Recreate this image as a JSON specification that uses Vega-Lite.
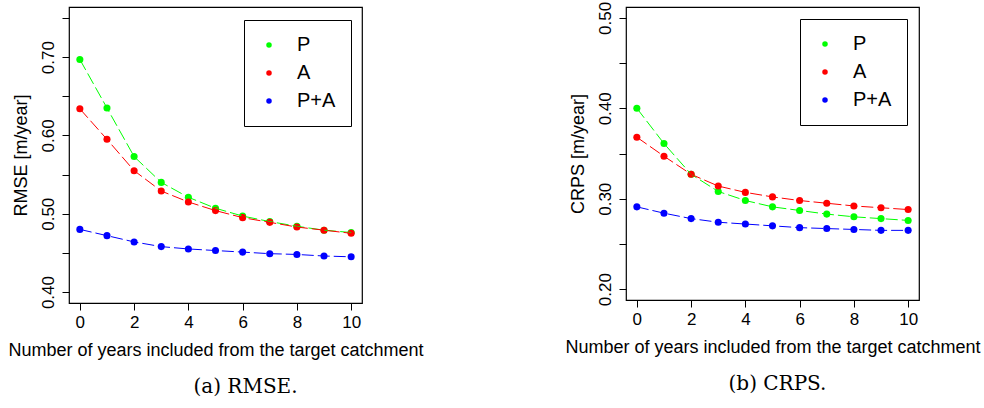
{
  "$schema": "https://vega.github.io/schema/vega-lite/v6.json",
  "background": "white",
  "padding": {"left": 7, "top": 0, "right": 5, "bottom": 5},
  "bounds": "flush",
  "spacing": 264,
  "datasets": {
    "rmse": [
      {"years": 0, "method": "P", "value": 0.697},
      {"years": 1, "method": "P", "value": 0.635},
      {"years": 2, "method": "P", "value": 0.573},
      {"years": 3, "method": "P", "value": 0.540},
      {"years": 4, "method": "P", "value": 0.521},
      {"years": 5, "method": "P", "value": 0.507},
      {"years": 6, "method": "P", "value": 0.497},
      {"years": 7, "method": "P", "value": 0.490},
      {"years": 8, "method": "P", "value": 0.484},
      {"years": 9, "method": "P", "value": 0.479},
      {"years": 10, "method": "P", "value": 0.476},
      {"years": 0, "method": "A", "value": 0.634},
      {"years": 1, "method": "A", "value": 0.595},
      {"years": 2, "method": "A", "value": 0.555},
      {"years": 3, "method": "A", "value": 0.529},
      {"years": 4, "method": "A", "value": 0.515},
      {"years": 5, "method": "A", "value": 0.504},
      {"years": 6, "method": "A", "value": 0.495},
      {"years": 7, "method": "A", "value": 0.489},
      {"years": 8, "method": "A", "value": 0.483},
      {"years": 9, "method": "A", "value": 0.479},
      {"years": 10, "method": "A", "value": 0.475},
      {"years": 0, "method": "P+A", "value": 0.480},
      {"years": 1, "method": "P+A", "value": 0.472},
      {"years": 2, "method": "P+A", "value": 0.464},
      {"years": 3, "method": "P+A", "value": 0.458},
      {"years": 4, "method": "P+A", "value": 0.455},
      {"years": 5, "method": "P+A", "value": 0.453},
      {"years": 6, "method": "P+A", "value": 0.451},
      {"years": 7, "method": "P+A", "value": 0.449},
      {"years": 8, "method": "P+A", "value": 0.448},
      {"years": 9, "method": "P+A", "value": 0.446},
      {"years": 10, "method": "P+A", "value": 0.445}
    ],
    "crps": [
      {"years": 0, "method": "P", "value": 0.400},
      {"years": 1, "method": "P", "value": 0.361},
      {"years": 2, "method": "P", "value": 0.327},
      {"years": 3, "method": "P", "value": 0.308},
      {"years": 4, "method": "P", "value": 0.298},
      {"years": 5, "method": "P", "value": 0.291},
      {"years": 6, "method": "P", "value": 0.287},
      {"years": 7, "method": "P", "value": 0.283},
      {"years": 8, "method": "P", "value": 0.280},
      {"years": 9, "method": "P", "value": 0.278},
      {"years": 10, "method": "P", "value": 0.276},
      {"years": 0, "method": "A", "value": 0.368},
      {"years": 1, "method": "A", "value": 0.347},
      {"years": 2, "method": "A", "value": 0.327},
      {"years": 3, "method": "A", "value": 0.314},
      {"years": 4, "method": "A", "value": 0.307},
      {"years": 5, "method": "A", "value": 0.302},
      {"years": 6, "method": "A", "value": 0.298},
      {"years": 7, "method": "A", "value": 0.295},
      {"years": 8, "method": "A", "value": 0.292},
      {"years": 9, "method": "A", "value": 0.290},
      {"years": 10, "method": "A", "value": 0.288},
      {"years": 0, "method": "P+A", "value": 0.291},
      {"years": 1, "method": "P+A", "value": 0.284},
      {"years": 2, "method": "P+A", "value": 0.278},
      {"years": 3, "method": "P+A", "value": 0.274},
      {"years": 4, "method": "P+A", "value": 0.272},
      {"years": 5, "method": "P+A", "value": 0.270},
      {"years": 6, "method": "P+A", "value": 0.268},
      {"years": 7, "method": "P+A", "value": 0.267},
      {"years": 8, "method": "P+A", "value": 0.266},
      {"years": 9, "method": "P+A", "value": 0.265},
      {"years": 10, "method": "P+A", "value": 0.265}
    ]
  },
  "hconcat": [
    {
      "width": 293,
      "height": 296,
      "data": {"name": "rmse"},
      "title": {"text": "(a) RMSE.", "orient": "bottom", "anchor": "middle", "dx": 30, "offset": 18},
      "encoding": {
        "x": {"field": "years", "type": "quantitative", "title": "Number of years included from the target catchment",
              "scale": {"domain": [-0.4, 10.4], "nice": false, "zero": false},
              "axis": {"values": [0, 2, 4, 6, 8, 10]}},
        "y": {"field": "value", "type": "quantitative", "title": "RMSE [m/year]",
              "scale": {"domain": [0.386, 0.764], "nice": false, "zero": false},
              "axis": {"values": [0.40, 0.45, 0.50, 0.55, 0.60, 0.65, 0.70, 0.75],
                       "labelExpr": "round(datum.value*100) % 10 == 0 ? format(datum.value, '.2f') : ''"}},
        "color": {"field": "method", "type": "nominal",
                  "scale": {"domain": ["P", "A", "P+A"], "range": ["#00ff00", "#ff0000", "#0000ff"]},
                  "legend": {"orient": "none", "legendX": 175, "legendY": 13}}
      },
      "layer": [
        {"mark": {"type": "point", "filled": true, "opacity": 1, "size": 50, "shape": "circle"}},
        {"mark": {"type": "line", "strokeWidth": 1, "strokeDash": [12, 4]}}
      ]
    },
    {
      "width": 293,
      "height": 293,
      "data": {"name": "crps"},
      "title": {"text": "(b) CRPS.", "orient": "bottom", "anchor": "middle", "dx": 5, "offset": 18},
      "encoding": {
        "x": {"field": "years", "type": "quantitative", "title": "Number of years included from the target catchment",
              "scale": {"domain": [-0.4, 10.4], "nice": false, "zero": false},
              "axis": {"values": [0, 2, 4, 6, 8, 10]}},
        "y": {"field": "value", "type": "quantitative", "title": "CRPS [m/year]",
              "scale": {"domain": [0.188, 0.512], "nice": false, "zero": false},
              "axis": {"values": [0.20, 0.25, 0.30, 0.35, 0.40, 0.45, 0.50],
                       "labelExpr": "round(datum.value*100) % 10 == 0 ? format(datum.value, '.2f') : ''"}},
        "color": {"field": "method", "type": "nominal",
                  "scale": {"domain": ["P", "A", "P+A"], "range": ["#00ff00", "#ff0000", "#0000ff"]},
                  "legend": {"orient": "none", "legendX": 174, "legendY": 12}}
      },
      "layer": [
        {"mark": {"type": "point", "filled": true, "opacity": 1, "size": 50, "shape": "circle"}},
        {"mark": {"type": "line", "strokeWidth": 1, "strokeDash": [12, 4]}}
      ]
    }
  ],
  "resolve": {"scale": {"color": "independent", "x": "independent", "y": "independent"}},
  "config": {
    "font": "Liberation Sans",
    "view": {"stroke": "black", "strokeWidth": 1.2, "fill": "white"},
    "axis": {
      "grid": false,
      "domain": false,
      "tickColor": "black",
      "tickSize": 7,
      "tickWidth": 1,
      "labelColor": "black",
      "labelFont": "Liberation Sans",
      "labelFontSize": 17,
      "titleColor": "black",
      "titleFont": "Liberation Sans",
      "titleFontSize": 18,
      "titleFontWeight": "normal"
    },
    "axisX": {"labelPadding": 4, "titlePadding": 11, "labelFlush": false},
    "axisY": {"labelAngle": 270, "labelAlign": "center", "labelBaseline": "bottom", "labelPadding": 5, "titlePadding": 9, "labelFlush": false},
    "legend": {
      "title": null,
      "strokeColor": "black",
      "fillColor": "white",
      "padding": 15,
      "rowPadding": 8,
      "labelFontSize": 20,
      "labelFont": "Liberation Sans",
      "labelColor": "black",
      "labelOffset": 18,
      "symbolType": "circle",
      "symbolSize": 30,
      "symbolStrokeWidth": 0,
      "symbolOpacity": 1
    },
    "title": {"font": "DejaVu Serif", "fontSize": 20, "fontWeight": "normal", "color": "black"}
  }
}
